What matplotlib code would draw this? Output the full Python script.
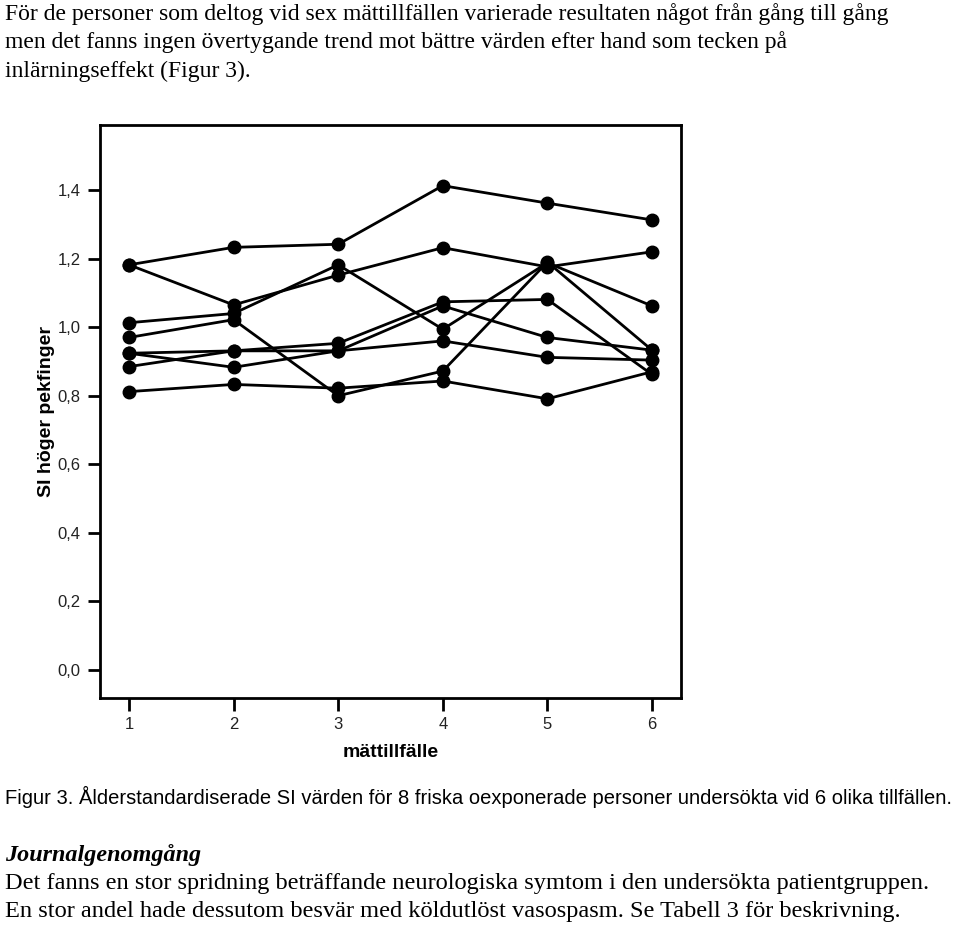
import numpy as np
import matplotlib.pyplot as plt

# mättillfälle 1..6
tillfalle = [1, 2, 3, 4, 5, 6]

# SI värden per person
p1 = [1.182, 1.233, 1.242, 1.413, 1.362, 1.313]
p2 = [1.182, 1.065, 1.152, 1.232, 1.176, 1.220]
p3 = [1.013, 1.040, 1.182, 0.994, 1.188, 1.062]
p4 = [0.970, 1.022, 0.800, 0.872, 1.190, 0.933]
p5 = [0.924, 0.931, 0.953, 1.074, 1.081, 0.862]
p6 = [0.924, 0.883, 0.931, 0.960, 0.912, 0.904]
p7 = [0.885, 0.931, 0.931, 1.062, 0.970, 0.933]
p8 = [0.812, 0.833, 0.822, 0.843, 0.791, 0.870]
personer = [p1, p2, p3, p4, p5, p6, p7, p8]

yticks = [0.0, 0.2, 0.4, 0.6, 0.8, 1.0, 1.2, 1.4]
ytick_labels = ["0,0", "0,2", "0,4", "0,6", "0,8", "1,0", "1,2", "1,4"]

text_top = [
    "För de personer som deltog vid sex mättillfällen varierade resultaten något från gång till gång",
    "men det fanns ingen övertygande trend mot bättre värden efter hand som tecken på",
    "inlärningseffekt (Figur 3).",
]
caption = ("Figur 3. Ålderstandardiserade SI värden för 8 friska oexponerade "
           "personer undersökta vid 6 olika tillfällen.")
rubrik = "Journalgenomgång"
text_bottom = [
    "Det fanns en stor spridning beträffande neurologiska symtom i den undersökta patientgruppen.",
    "En stor andel hade dessutom besvär med köldutlöst vasospasm. Se Tabell 3 för beskrivning.",
]

W, H = 960, 925
fig = plt.figure(figsize=(W / 100, H / 100), dpi=100)
ax = fig.add_axes([100 / W, 1 - 698 / H, 581 / W, 573 / H])

for p in personer:
    ax.plot(tillfalle, p, color="black", lw=2, marker="o", markersize=9,
            markerfacecolor="black", markeredgecolor="black")

ax.set_xlim(0.723, 6.277)
ax.set_ylim(-0.082, 1.59)
ax.set_xticks(tillfalle)
ax.set_xticklabels([str(t) for t in tillfalle])
ax.set_yticks(yticks)
ax.set_yticklabels(ytick_labels)
for s in ax.spines.values():
    s.set_linewidth(2)
ax.tick_params(direction="out", length=9, width=2, labelsize=12, pad=5,
               labelcolor="#222222")
for lbl in ax.get_xticklabels() + ax.get_yticklabels():
    lbl.set_family("Liberation Sans")

ax.set_xlabel("mättillfälle", fontsize=14, fontweight="bold",
              family="Liberation Sans", labelpad=8)
ax.set_ylabel("SI höger pekfinger", fontsize=14, fontweight="bold",
              family="Liberation Sans", labelpad=2)

# brödtext ovanför och under figuren
serif = "Liberation Serif"
for i, line in enumerate(text_top):
    fig.text(5 / W, 1 - (14 + 28.5 * i) / H, line, family=serif, fontsize=17.0,
             va="center", ha="left")

fig.text(5 / W, 1 - 797 / H, caption, family="Liberation Sans", fontsize=14.5,
         va="center", ha="left")
fig.text(5 / W, 1 - 855 / H, rubrik, family=serif, fontsize=17.4, style="italic",
         fontweight="bold", va="center", ha="left")
for i, line in enumerate(text_bottom):
    fig.text(5 / W, 1 - (883 + 28 * i) / H, line, family=serif, fontsize=17.6,
             va="center", ha="left")

fig.savefig("out.png", dpi=100)
